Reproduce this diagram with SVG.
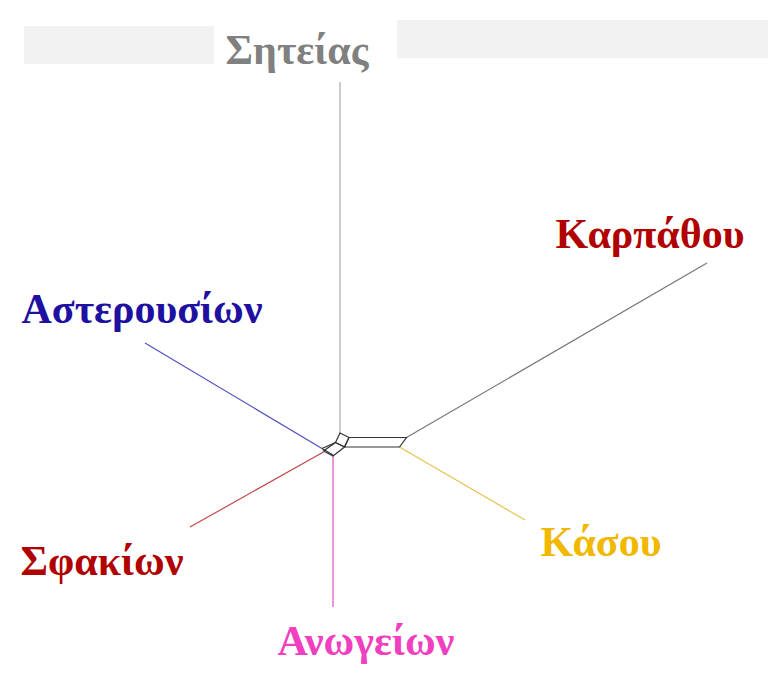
<svg xmlns="http://www.w3.org/2000/svg" width="768" height="689" viewBox="0 0 768 689">
<style>
.lbl{font-family:"Liberation Serif","Times New Roman",serif;font-weight:bold;font-size:42px}
.core{stroke:#333;stroke-width:1.2;fill:none}
.br{fill:none;stroke-width:1.2}
</style>
<rect width="768" height="689" fill="#fff"/>
<rect x="24" y="26" width="190" height="38" fill="#f2f2f2"/>
<rect x="397" y="20" width="371" height="38" fill="#f2f2f2"/>
<g id="connectors">
<line class="br" x1="340" y1="82" x2="340" y2="433" stroke="#aaaaaa"/>
<line class="br" x1="406.5" y1="437.5" x2="707" y2="263" stroke="#777777"/>
<line class="br" x1="399.5" y1="447" x2="525" y2="520" stroke="#e8c050"/>
<line class="br" x1="145" y1="343" x2="322" y2="448.5" stroke="#5050c0"/>
<line class="br" x1="190" y1="527" x2="323.5" y2="452" stroke="#c04848"/>
<line class="br" x1="333" y1="456" x2="333" y2="607" stroke="#e050c8"/>
<g id="network-core">
<polygon class="core" points="340,433 349,437.5 344.5,447 335.5,442.5"/>
<polygon class="core" points="349,437.5 406.5,437.5 399.5,447 344.5,447"/>
<polygon class="core" points="335.5,442.5 344.5,447 333,456 323.5,451"/>
<line class="core" x1="322" y1="448.5" x2="333" y2="455"/>
<line class="core" x1="322" y1="448.5" x2="335.5" y2="442.5"/>
</g>
</g>
<g id="n-siteias"><text class="lbl" x="297" y="64" text-anchor="middle" fill="#808080">Σητείας</text></g>
<g id="n-karpathou"><text class="lbl" x="650" y="248" text-anchor="middle" fill="#b00000">Καρπάθου</text></g>
<g id="n-asterousion"><text class="lbl" x="142" y="323" text-anchor="middle" fill="#1e10a0">Αστερουσίων</text></g>
<g id="n-sfakion"><text class="lbl" x="102" y="575" text-anchor="middle" fill="#b00000">Σφακίων</text></g>
<g id="n-kasou"><text class="lbl" x="601" y="556" text-anchor="middle" fill="#f0b800">Κάσου</text></g>
<g id="n-anogeion"><text class="lbl" x="366" y="655" text-anchor="middle" fill="#f040c0">Ανωγείων</text></g>
</svg>
